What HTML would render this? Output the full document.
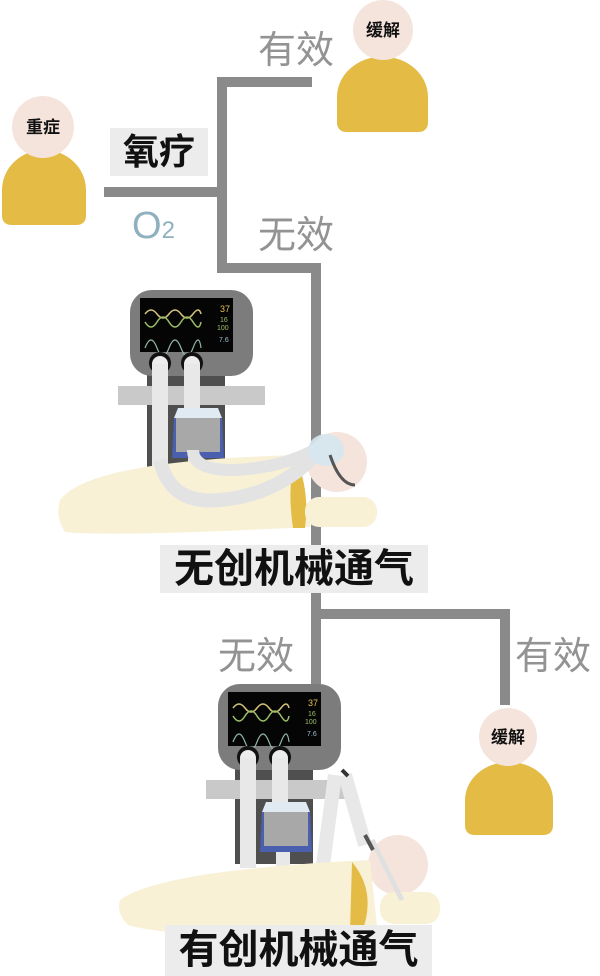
<!DOCTYPE html>
<html><head><meta charset="utf-8"><style>
body{margin:0;background:#fff;}
.w{position:relative;width:600px;height:976px;overflow:hidden;background:#fff;font-family:"Liberation Sans","Noto Sans CJK SC",sans-serif;}
.t{position:absolute;white-space:nowrap;line-height:1;}
.g{color:#939393;font-size:38px;}
.lb{background:#ececec;color:#111;font-weight:bold;text-align:center;}
.h{font-size:17px;font-weight:bold;color:#111;}
</style></head><body><div class="w">
<svg width="600" height="976" style="position:absolute;left:0;top:0">
<defs>
<g id="vent">
  <rect x="17" y="80" width="78" height="100" fill="#4f4f4f"/>
  <rect x="-12" y="96" width="147" height="19" fill="#c9c9c9"/>
  <rect x="0" y="0" width="123" height="86" rx="22" fill="#7c7c7c"/>
  <rect x="10" y="8" width="93" height="54" fill="#050505"/>
  <path d="M15 24 q6 -8 12 0 t12 0 t12 0 t12 0 t8 0" stroke="#d6c47a" stroke-width="1.5" fill="none"/>
  <path d="M15 32 q6 10 12 0 t12 0 t12 0 t12 0 t8 0" stroke="#9bbf6a" stroke-width="1.5" fill="none"/>
  <path d="M15 58 q6 -16 12 0 t12 0 t12 0 t12 0 t8 0" stroke="#8fb6a0" stroke-width="1.2" fill="none"/>
  <text x="90" y="22" fill="#e2c257" font-size="9" font-family="Liberation Sans">37</text>
  <text x="90" y="32" fill="#9bbf6a" font-size="7" font-family="Liberation Sans">16</text>
  <text x="87" y="40" fill="#9bbf6a" font-size="7" font-family="Liberation Sans">100</text>
  <text x="89" y="52" fill="#9fc0d0" font-size="7" font-family="Liberation Sans">7.6</text>
  <circle cx="30" cy="73" r="11" fill="#111"/><circle cx="30" cy="74" r="8" fill="#ececec"/>
  <circle cx="62" cy="73" r="11" fill="#111"/><circle cx="62" cy="74" r="8" fill="#ececec"/>
  <rect x="22" y="74" width="16" height="110" fill="#e8e8e8"/>
  <rect x="54" y="74" width="16" height="45" fill="#e8e8e8"/>
  <path d="M48 118 h40 l4 10 h-48z" fill="#dfeaf2"/>
  <path d="M44 128 h48 l2 40 h-52z" fill="#4a5fae"/>
  <rect x="46" y="128" width="44" height="34" fill="#a8a8a8"/>
  <rect x="58" y="168" width="14" height="16" fill="#e8e8e8"/>
</g>
</defs>
<g stroke="#8a8a8a" stroke-width="10" fill="none">
<path d="M104 192 H222"/>
<path d="M312 82 H222 V268 H316 V610"/>
<path d="M316 593 V688"/>
<path d="M316 614 H505 V705"/>
</g>
<path d="M2 215 V190 a42 40 0 0 1 84 0 V215 q0 10 -10 10 H12 q-10 0 -10 -10z" fill="#e3bb45"/>
<circle cx="43" cy="127" r="31" fill="#f5e4dc"/>
<path d="M337 122 V97 a45 40 0 0 1 91 0 V122 q0 10 -10 10 H347 q-10 0 -10 -10z" fill="#e3bb45"/>
<circle cx="383" cy="30" r="30" fill="#f5e4dc"/>
<path d="M465 825 V800 a44 38 0 0 1 88 0 V825 q0 10 -10 10 H475 q-10 0 -10 -10z" fill="#e3bb45"/>
<circle cx="508" cy="737" r="29" fill="#f5e4dc"/>
<use href="#vent" transform="translate(130,290)"/>
<path d="M60 500 q30 -40 240 -45 l10 72 q-200 10 -245 5 q-10 -15 -5 -32z" fill="#f8f1d6"/>
<path d="M295 458 q15 30 10 70 l-12 0 q-6 -40 2 -70z" fill="#e3bb45"/>
<rect x="305" y="497" width="72" height="30" rx="14" fill="#f8f1d6"/>
<circle cx="337" cy="462" r="30" fill="#f5e4dc"/>
<path d="M160 460 q10 45 60 40 q60 -5 100 -50" stroke="#e3e3e3" stroke-width="14" fill="none"/>
<path d="M193 450 q0 20 40 20 q50 -2 85 -22" stroke="#e3e3e3" stroke-width="12" fill="none"/>
<ellipse cx="326" cy="450" rx="18" ry="16" fill="#d5e6ef" opacity=".9"/>
<path d="M330 455 q10 30 25 30" stroke="#555" stroke-width="3" fill="none"/>
<use href="#vent" transform="translate(218,684)"/>
<path d="M335 775 l-12 90" stroke="#e8e8e8" stroke-width="14"/>
<path d="M345 775 l20 70" stroke="#e8e8e8" stroke-width="14"/>
<path d="M342 770 l6 6" stroke="#333" stroke-width="4"/>
<circle cx="398" cy="865" r="30" fill="#f5e4dc"/>
<path d="M120 900 q40 -30 250 -40 l8 75 q-200 5 -250 -10 q-12 -12 -8 -25z" fill="#f8f1d6"/>
<path d="M352 862 q25 30 10 70 l-12 0 z" fill="#e3bb45"/>
<rect x="380" y="892" width="60" height="32" rx="14" fill="#f8f1d6"/>
<path d="M372 840 l30 60" stroke="#e0e0e0" stroke-width="5"/>
<path d="M365 835 l8 15" stroke="#555" stroke-width="4"/>
</svg>
<div class="t g" style="left:258px;top:32px">有效</div>
<div class="t g" style="left:258px;top:217px">无效</div>
<div class="t g" style="left:218px;top:638px">无效</div>
<div class="t g" style="left:515px;top:638px">有效</div>
<div class="t h" style="left:26px;top:119px">重症</div>
<div class="t h" style="left:366px;top:22px">缓解</div>
<div class="t h" style="left:491px;top:729px">缓解</div>
<div class="t lb" style="left:110px;top:128px;width:98px;height:48px;font-size:36px;line-height:48px">氧疗</div>
<div class="t" style="left:132px;top:207px;font-size:38px;color:#8fb1bf">O<span style="font-size:24px">2</span></div>
<div class="t lb" style="left:160px;top:545px;width:268px;height:48px;font-size:40px;line-height:48px">无创机械通气</div>
<div class="t lb" style="left:165px;top:925px;width:267px;height:51px;font-size:40px;line-height:50px">有创机械通气</div>
</div></body></html>
